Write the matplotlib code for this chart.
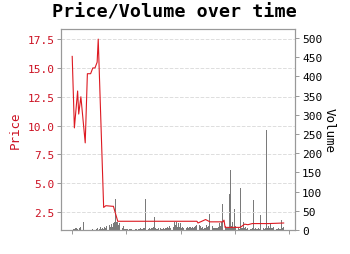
import numpy as np
import matplotlib
matplotlib.use("Agg")
import matplotlib.pyplot as plt

plt.rcParams['font.family'] = ['DejaVu Sans Mono']

# daily volume, one bar per trading day
volume = [1, 3, 3, 4, 5, 2, 1, 5, 9, 12,
          20, 1, 0, 1, 1, 0, 1, 1, 1, 2,
          1, 1, 2, 4, 1, 3, 9, 2, 5, 3,
          8, 6, 11, 4, 13, 7, 15, 9, 17, 20,
          81, 22, 20, 12, 18, 14, 6, 10, 3, 2,
          3, 2, 1, 3, 2, 2, 1, 3, 2, 2,
          1, 3, 2, 4, 2, 3, 5, 6, 82, 4,
          3, 5, 3, 6, 4, 8, 33, 4, 3, 2,
          4, 5, 3, 2, 4, 3, 6, 4, 8, 5,
          11, 6, 17, 9, 20, 12, 20, 8, 17, 9,
          17, 5, 7, 6, 7, 6, 7, 6, 7, 7,
          6, 7, 6, 8, 10, 13, 120, 12, 10, 5,
          7, 3, 6, 4, 13, 8, 10, 42, 14, 11,
          5, 6, 4, 5, 6, 8, 18, 10, 22, 68,
          18, 10, 5, 6, 7, 95, 156, 10, 22, 6,
          55, 10, 8, 4, 3, 109, 5, 6, 21, 4,
          8, 3, 4, 5, 3, 2, 4, 79, 3, 4,
          3, 2, 4, 3, 40, 5, 4, 3, 6, 261,
          5, 10, 6, 17, 4, 5, 8, 3, 2, 3,
          4, 2, 3, 27, 5, 8]

# price at the days where it changes
price_day = [0, 2, 5, 6, 8, 12, 14, 17, 19, 21, 23, 24, 29, 31, 37, 38, 42,
             115, 116, 123, 127, 139, 140, 141, 155, 159, 162, 166, 181, 195]
price = [16.0, 9.8, 13.0, 11.0, 12.5, 8.5, 14.5, 14.5, 15.0, 15.0, 15.5, 17.5,
         2.9, 3.05, 3.0, 3.0, 1.7,
         1.7, 1.55, 1.85, 1.65, 1.65, 1.8, 1.17, 1.17, 1.45, 1.4, 1.5, 1.5, 1.55]

days = np.arange(len(volume))

fig, ax = plt.subplots(figsize=(3.5, 2.55), dpi=100)
ax2 = ax.twinx()

ax2.bar(days, volume, width=0.85, color='#7a7a7a', linewidth=0, zorder=1)
ax.plot(price_day, price, color='#dd1a22', lw=0.8, zorder=3)

ax.set_zorder(ax2.get_zorder() + 1)
ax.patch.set_visible(False)

ax.set_xlim(-10.1, 205.5)
ax.set_ylim(0.94, 18.37)
ax2.set_ylim(0, 523)
ax.set_yticks([2.5, 5, 7.5, 10, 12.5, 15, 17.5])
ax2.set_yticks([0, 50, 100, 150, 200, 250, 300, 350, 400, 450, 500])
ax.set_xticks([0, 50, 100, 150, 200])
ax.set_xticklabels([])

ax.grid(axis='y', ls='--', color='#dddddd', lw=0.7)
ax.set_axisbelow(True)

for a in (ax, ax2):
    for s in a.spines.values():
        s.set_color('#999999')
    a.tick_params(length=3, width=0.7, color='#999999', labelsize=8, pad=2)

ax.tick_params(axis='y', labelcolor='#cc1122')
ax.set_ylabel('Price', color='#cc1122', fontsize=9, labelpad=4)
ax2.set_ylabel('Volume', fontsize=9, rotation=270, labelpad=10)
fig.suptitle('Price/Volume over time', fontsize=13.2, fontweight='bold',
             x=0.497, y=0.985, va='top')

fig.subplots_adjust(left=0.175, right=0.843, top=0.882, bottom=0.094)
fig.savefig('out.png', dpi=100)
